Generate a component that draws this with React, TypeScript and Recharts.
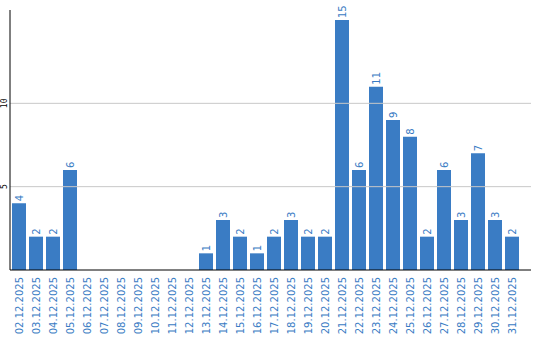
import { BarChart, Bar, XAxis, YAxis, ReferenceLine } from "recharts";

const dates = [
  "02.12.2025", "03.12.2025", "04.12.2025", "05.12.2025", "06.12.2025",
  "07.12.2025", "08.12.2025", "09.12.2025", "10.12.2025", "11.12.2025",
  "12.12.2025", "13.12.2025", "14.12.2025", "15.12.2025", "16.12.2025",
  "17.12.2025", "18.12.2025", "19.12.2025", "20.12.2025", "21.12.2025",
  "22.12.2025", "23.12.2025", "24.12.2025", "25.12.2025", "26.12.2025",
  "27.12.2025", "28.12.2025", "29.12.2025", "30.12.2025", "31.12.2025",
];
const counts = [
  4, 2, 2, 6, 0, 0, 0, 0, 0, 0, 0, 1, 3, 2, 1, 2, 3, 2, 2, 15, 6, 11, 9, 8, 2,
  6, 3, 7, 3, 2,
];
const yTicks = [5, 10];

const data = dates.map((date, i) => ({ date, count: counts[i] }));

const BLUE = "#3a7cc4";

const DateTick = ({ x, payload }: any) => {
  const tx = x + 4;
  const ty = 277;
  return (
    <text
      x={tx}
      y={ty}
      transform={`rotate(-90, ${tx}, ${ty})`}
      textAnchor="end"
      fill={BLUE}
      fontSize={10}
      fontFamily="DejaVu Sans"
    >
      {payload.value}
    </text>
  );
};

const ValueTick = ({ y, payload }: any) => (
  <text
    x={4.5}
    y={y}
    transform={`rotate(-90, 4.5, ${y})`}
    textAnchor="middle"
    dominantBaseline="central"
    fill="#000"
    fontSize={8}
    fontFamily="DejaVu Sans Mono"
  >
    {payload.value}
  </text>
);

const BarLabel = ({ x, y, width, value }: any) => {
  if (!value) return null;
  const tx = x + width / 2 + 4;
  const ty = y - 2;
  return (
    <text
      x={tx}
      y={ty}
      transform={`rotate(-90, ${tx}, ${ty})`}
      textAnchor="start"
      fill={BLUE}
      fontSize={10}
      fontFamily="DejaVu Sans"
    >
      {value}
    </text>
  );
};

export default function App() {
  return (
    <div style={{ position: "absolute", left: 0, top: 0 }}>
      <BarChart
        width={540}
        height={340}
        data={data}
        margin={{ top: 10, right: 9, left: 0, bottom: 0 }}
      >
        {yTicks.map((t) => (
          <ReferenceLine key={t} y={t} stroke="#c8c8c8" />
        ))}
        <XAxis
          dataKey="date"
          interval={0}
          height={70}
          tick={<DateTick />}
          tickLine={false}
          axisLine={{ stroke: "#000" }}
          padding={{ left: 0, right: 11 }}
        />
        <YAxis
          width={10}
          domain={[0, 15.6]}
          ticks={yTicks}
          tick={<ValueTick />}
          tickLine={false}
          axisLine={{ stroke: "#000" }}
        />
        <Bar
          dataKey="count"
          fill={BLUE}
          barSize={14}
          isAnimationActive={false}
          label={<BarLabel />}
        />
      </BarChart>
    </div>
  );
}
